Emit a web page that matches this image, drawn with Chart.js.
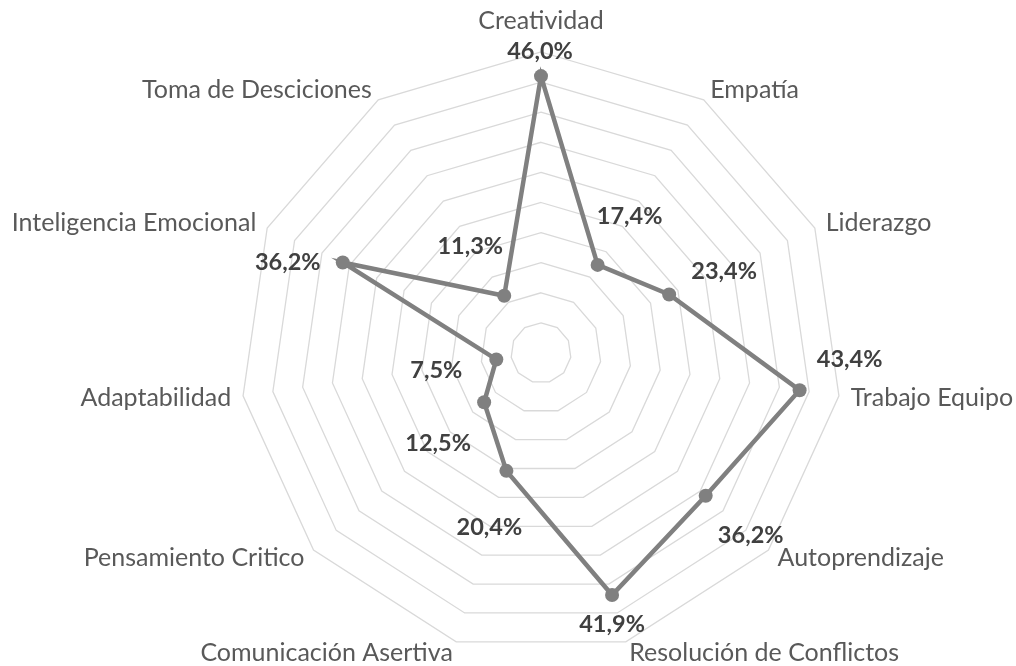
<!DOCTYPE html>
<html><head><meta charset="utf-8">
<script src="https://cdn.jsdelivr.net/npm/chart.js@4"></script>
<style>html,body{margin:0;padding:0;background:#fff;} #wrap{width:1016px;height:666px;position:relative;}</style>
</head><body><div id="wrap"><canvas id="c"></canvas></div>
<script>
const categories = ['Creatividad','Empatía','Liderazgo','Trabajo Equipo','Autoprendizaje','Resolución de Conflictos','Comunicación Asertiva','Pensamiento Critico','Adaptabilidad','Inteligencia Emocional','Toma de Desciciones'];
const values = [46.0, 17.4, 23.4, 43.4, 36.2, 41.9, 20.4, 12.5, 7.5, 36.2, 11.3];
const scaleMin = 0;
const scaleMax = 50;
const scaleStep = 5;

// style: label offsets (px) from each plotted point
const valueLabelOffsets = [[-1,-25],[32,-48],[55,-23],[50,-31],[45,40],[0,29],[-17,57],[-46,41],[-60,11],[-55,0],[-34,-49]];
const CAT_FONT = '25px Lato';
const VAL_FONT = 'bold 23.5px Lato';

const labelPlugin = {
  id: 'customLabels',
  afterDatasetsDraw(chart) {
    const ctx = chart.ctx;
    const scale = chart.scales.r;
    ctx.save();
    ctx.font = CAT_FONT;
    ctx.fillStyle = '#595959';
    ctx.textBaseline = 'middle';
    categories.forEach((lab, i) => {
      const p = scale.getPointPosition(i, scale.drawingArea + 12);
      const deg = scale.getIndexAngle(i) * 180 / Math.PI;
      let y = p.y;
      if (deg < 1 || deg > 359) { ctx.textAlign = 'center'; y = p.y - 19; }
      else if (Math.abs(deg - 180) < 1) { ctx.textAlign = 'center'; y = p.y + 19; }
      else if (deg < 180) { ctx.textAlign = 'left'; }
      else { ctx.textAlign = 'right'; }
      ctx.fillText(lab, p.x, y);
    });
    ctx.font = VAL_FONT;
    ctx.fillStyle = '#404040';
    ctx.textAlign = 'center';
    const meta = chart.getDatasetMeta(0);
    meta.data.forEach((el, i) => {
      const o = valueLabelOffsets[i];
      ctx.fillText(values[i].toFixed(1).replace('.', ',') + '%', el.x + o[0], el.y + o[1]);
    });
    ctx.restore();
  }
};

new Chart(document.getElementById('c'), {
  type: 'radar',
  data: {
    labels: categories,
    datasets: [{
      data: values,
      borderColor: '#808080',
      borderWidth: 4.5,
      pointRadius: 7,
      pointBackgroundColor: '#808080',
      pointBorderWidth: 0,
      fill: false,
      tension: 0
    }]
  },
  options: {
    responsive: true,
    maintainAspectRatio: false,
    animation: false,
    layout: { padding: { top: 52, bottom: 12, left: 66, right: 0 } },
    plugins: { legend: { display: false }, tooltip: { enabled: false } },
    scales: {
      r: {
        min: scaleMin, max: scaleMax,
        ticks: { display: false, stepSize: scaleStep },
        grid: { color: '#d9d9d9', lineWidth: 1.3 },
        angleLines: { display: false },
        pointLabels: { display: false }
      }
    }
  },
  plugins: [labelPlugin]
});
</script></body></html>
